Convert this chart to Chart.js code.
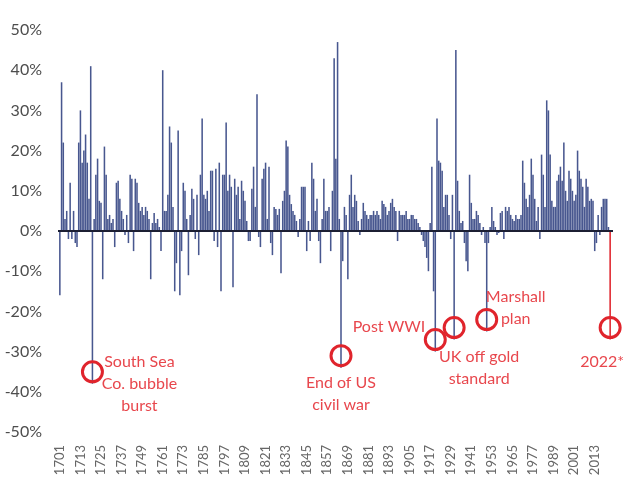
<!DOCTYPE html>
<html>
<head>
<meta charset="utf-8">
<script src="https://cdn.jsdelivr.net/npm/chart.js@4.4.0/dist/chart.umd.min.js"></script>
<style>
  html, body { margin: 0; padding: 0; background: #fff; }
</style>
</head>
<body>
<canvas id="returnsChart" width="632" height="486"></canvas>
<script>
// years shown on the axis and labelled every 12 years
const firstYear = 1701;
const lastYear = 2022;
const tickYears = [1701, 1713, 1725, 1737, 1749, 1761, 1773, 1785, 1797, 1809, 1821, 1833, 1845,
  1857, 1869, 1881, 1893, 1905, 1917, 1929, 1941, 1953, 1965, 1977, 1989, 2001, 2013];

// annual returns in %
const returns1701to1750 = [
  -16, 37, 22, 3, 5, -2, 12, -2, 5, -3,
  -4, 22, 30, 17, 20, 24, 17, 8, 41, -38,
  3, 14, 18, 7.5, 7, -12, 21, 14, 3, 4,
  2, 3, -4, 12, 12.5, 8, 5, 3, -1, 4,
  -3, 14, 13, -5, 13, 12, 7, 5, 6, 4
];
const returns1751to1806 = [
  6, 5, 3, -12, 2, 4.5, 2, 3, 1, -5,
  40, 5, 5, 9, 26, 22, 6, -15, -8, 25,
  -16, -5, 12, 10, 3, -11, 4, 10.5, 8, -2,
  9, -6, 14, 28, 9, 8, 10, 5, 15, 15,
  -2.5, 15.5, -4, 17, -15, 14, 14, 27, 10, 14,
  11, -14, 13, 9, 11, 3
];
const returns1807to1862 = [
  12.5, 10, 7.5, 2.5, -2.5, -2.5, 10.5, 16, 6, 34,
  -1.5, -4, 13, 15.5, 17, 3, 16, -3, -6, 6,
  5.5, 4, 5.5, -10.5, 7.5, 10, 22.5, 21, 9, 6.7,
  5, 4, 2.5, -1.5, 3, 11, 11, 11, -5, 2.5,
  -2.5, 17, 13, 5, 8, -2.5, -8, 3, 13, 5,
  5, 6, -5, 10, 43, 18
];
const returns1863to1916 = [
  47, 3, -34, -7.5, 6, 4, -12, 9, 14, 6,
  9, 7.5, 2.5, -1, 3, 7, 5, 4, 3, 4,
  4, 5, 4, 5, 4, 3, 7.5, 6.7, 6, 4,
  5, 7, 8, 6, 5, -2.5, 5, 4, 4, 4,
  5, 3, 3, 4, 4, 3, 3, 2, 1, -1,
  -2.5, -4, -6.7, -10
];
const returns1917to1971 = [
  2, 16, -15, -30, 28, 17.5, 17, 15, 6, 9,
  9, 4, -2, 9, -27, 45, 12.5, 5, 2, 2.5,
  -3, -7.5, -10, 14, 7, 3, 3, 5, 4, 2,
  -1, 1, -3, -25, -3, 1, 6, 2.5, 1, -1,
  -0.5, 4.5, 5, -2, 6, 5, 6, 4, 3, 2.5,
  4, 3, 3, 4, 17.5
];
const returns1972to2022 = [
  12, 8, 6, 9, 18, 14, 8, 2.5, 6, -2,
  19, 14, 6, 32.5, 30, 19, 7.5, 6, 6, 12.5,
  14, 16, 12.5, 22, 10, 7.5, 15, 13, 10, 7.5,
  9, 20, 15, 13, 11, 6, 13, 11, 7.5, 8,
  7.5, -5, -3, 4, -1, 6, 8, 8, 8, 1,
  -27
];

// circled events
const eventYears = [1720, 1865, 1920, 1931, 1950, 2022];
const eventLabels = [
  ['South Sea', 'Co. bubble', 'burst'],
  ['End of US', 'civil war'],
  ['Post WWI'],
  ['UK off gold', 'standard'],
  ['Marshall', 'plan'],
  ['2022*']
];

let years = [];
for (let y = firstYear; y <= lastYear; y++) {
  years.push(String(y));
}

let returns = [].concat(returns1701to1750, returns1751to1806, returns1807to1862,
  returns1863to1916, returns1917to1971, returns1972to2022);

const barBlue = '#48578f';
const red = '#e0242c';
const textRed = '#e8474d';
const labelFont = "Lato, Roboto, sans-serif";

// where the label text sits around each circle: [dx, dy of first line, align]
const labelPlacement = [
  [47, -10, 'center'],
  [0, 27, 'center'],
  [-10, -13, 'right'],
  [25, 29, 'center'],
  [29, -23, 'center'],
  [-8, 34, 'center']
];

let zeroLine = {
  id: 'zeroLine',
  afterDatasetsDraw: function (chart) {
    let ctx = chart.ctx;
    let area = chart.chartArea;
    let y = chart.scales.y.getPixelForValue(0);
    ctx.save();
    ctx.strokeStyle = '#1c1f33';
    ctx.lineWidth = 2;
    ctx.beginPath();
    ctx.moveTo(area.left - 1, y);
    ctx.lineTo(area.right + 2, y);
    ctx.stroke();
    ctx.restore();
  }
};

let eventMarks = {
  id: 'eventMarks',
  afterDraw: function (chart) {
    let ctx = chart.ctx;
    let meta = chart.getDatasetMeta(0);
    let yScale = chart.scales.y;
    ctx.save();
    eventYears.forEach(function (year, i) {
      let index = year - firstYear;
      let x = meta.data[index].x;
      let tip = yScale.getPixelForValue(returns[index]);
      let cy = tip - 12;

      ctx.strokeStyle = red;
      ctx.lineWidth = 3;
      ctx.beginPath();
      ctx.arc(x, cy, 10, 0, Math.PI * 2);
      ctx.stroke();

      ctx.fillStyle = textRed;
      ctx.font = '16px ' + labelFont;
      ctx.textAlign = labelPlacement[i][2];
      ctx.textBaseline = 'middle';
      eventLabels[i].forEach(function (line, j) {
        ctx.fillText(line, x + labelPlacement[i][0], cy + labelPlacement[i][1] + j * 22);
      });
    });
    ctx.restore();
  }
};

let ctx = document.getElementById('returnsChart').getContext('2d');

window.returnsChart = new Chart(ctx, {
  type: 'bar',
  data: {
    labels: years,
    datasets: [{
      data: returns,
      backgroundColor: function (c) {
        return years[c.dataIndex] === '2022' ? red : barBlue;
      },
      borderWidth: 0,
      barPercentage: 1,
      categoryPercentage: 0.9
    }]
  },
  options: {
    responsive: false,
    animation: false,
    devicePixelRatio: 1,
    layout: {
      padding: { top: 30, right: 21, bottom: 0, left: 0 }
    },
    plugins: {
      legend: { display: false },
      tooltip: { enabled: false }
    },
    scales: {
      x: {
        grid: { display: false },
        border: { display: false },
        afterFit: function (scale) { scale.height = 54; },
        ticks: {
          autoSkip: false,
          maxRotation: 90,
          minRotation: 90,
          padding: 5,
          color: '#666',
          font: { size: 13, family: labelFont },
          callback: function (value, index) {
            let year = Number(this.getLabelForValue(value));
            return tickYears.indexOf(year) >= 0 ? String(year) : null;
          }
        }
      },
      y: {
        min: -50,
        max: 50,
        grid: { display: false },
        border: { display: false },
        afterFit: function (scale) { scale.width = 59; },
        ticks: {
          stepSize: 10,
          padding: 9,
          color: '#4d4d4d',
          font: { size: 16, family: labelFont },
          callback: function (value) { return value + '%'; }
        }
      }
    }
  },
  plugins: [zeroLine, eventMarks]
});
</script>
</body>
</html>
